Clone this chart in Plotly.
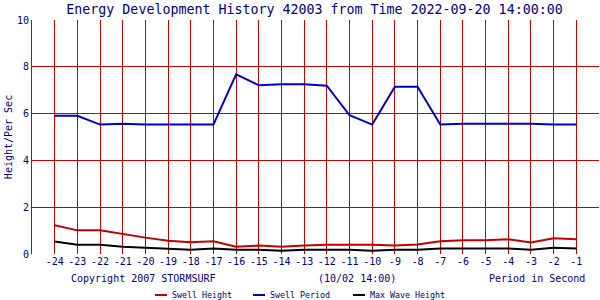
import plotly.graph_objects as go

hours = list(range(-24, 0))
swell_period = [5.91, 5.91, 5.53, 5.57, 5.53, 5.53, 5.53, 5.53, 7.68, 7.21, 7.25, 7.25,
                7.19, 5.93, 5.53, 7.15, 7.15, 5.53, 5.57, 5.57, 5.57, 5.57, 5.53, 5.53]
swell_height = [1.23, 1.01, 1.01, 0.84, 0.70, 0.57, 0.50, 0.54, 0.31, 0.36, 0.31, 0.36,
                0.40, 0.40, 0.40, 0.36, 0.41, 0.54, 0.59, 0.59, 0.63, 0.49, 0.67, 0.63]
max_wave = [0.53, 0.40, 0.40, 0.31, 0.27, 0.23, 0.18, 0.23, 0.18, 0.18, 0.14, 0.18,
            0.18, 0.18, 0.14, 0.18, 0.18, 0.23, 0.23, 0.23, 0.23, 0.18, 0.27, 0.23]
y_ticks = [0, 2, 4, 6, 8, 10]

series = [("Swell Height", swell_height, "#c00000"),
          ("Swell Period", swell_period, "#0000c0"),
          ("Max Wave Height", max_wave, "#000000")]

GRID = "#c80000"
NAVY = "#000080"
FONT = "DejaVu Sans Mono"

fig = go.Figure()
for name, vals, col in series:
    fig.add_trace(go.Scatter(x=hours, y=vals, mode="lines", name=name,
                             line=dict(color=col, width=2), showlegend=False))

fig.update_layout(
    width=600, height=300,
    margin=dict(l=32, r=1, t=20, b=46),
    paper_bgcolor="white", plot_bgcolor="white",
    title=dict(text="Energy Development History 42003 from Time 2022-09-20 14:00:00",
               x=314.5 / 600, xref="container", xanchor="center",
               y=1 - 9 / 300, yref="container", yanchor="middle",
               font=dict(family=FONT, size=13.3, color=NAVY)),
    xaxis=dict(range=[-25, 0], tickvals=hours, ticktext=[str(h) for h in hours],
               showgrid=True, gridcolor=GRID, gridwidth=1, zeroline=False,
               showline=False, ticks="", tickfont=dict(family=FONT, size=10, color=NAVY)),
    yaxis=dict(range=[0, 10], tickvals=y_ticks, showgrid=True, gridcolor=GRID, gridwidth=1,
               zeroline=False, showline=True, linecolor=GRID, linewidth=1, ticks="",
               tickfont=dict(family=FONT, size=10, color=NAVY),
               title=dict(text="Height/Per Sec", font=dict(family=FONT, size=10, color=NAVY),
                          standoff=2)),
)

fig.add_annotation(text="Copyright 2007 STORMSURF", xref="paper", yref="paper",
                   x=(69 - 32) / 567, y=-(278 - 254) / 234, xanchor="left", yanchor="middle",
                   showarrow=False, font=dict(family=FONT, size=10, color=NAVY))
fig.add_annotation(text="(10/02 14:00)", xref="paper", yref="paper",
                   x=(316 - 32) / 567, y=-(278 - 254) / 234, xanchor="left", yanchor="middle",
                   showarrow=False, font=dict(family=FONT, size=10, color=NAVY))
fig.add_annotation(text="Period in Second", xref="paper", yref="paper",
                   x=(587 - 32) / 567, y=-(278 - 254) / 234, xanchor="right", yanchor="middle",
                   showarrow=False, font=dict(family=FONT, size=10, color=NAVY))

legend_x = [155, 253, 353]
for (name, _, col), lx in zip(series, legend_x):
    ly = -(295 - 254) / 234
    fig.add_shape(type="line", xref="paper", yref="paper",
                  x0=(lx - 32) / 567, x1=(lx + 12 - 32) / 567, y0=ly, y1=ly,
                  line=dict(color=col, width=2))
    fig.add_annotation(text=name, xref="paper", yref="paper",
                       x=(lx + 15 - 32) / 567, y=ly, xanchor="left", yanchor="middle",
                       showarrow=False, font=dict(family=FONT, size=8.3, color=NAVY))

fig.write_html("out.html")
